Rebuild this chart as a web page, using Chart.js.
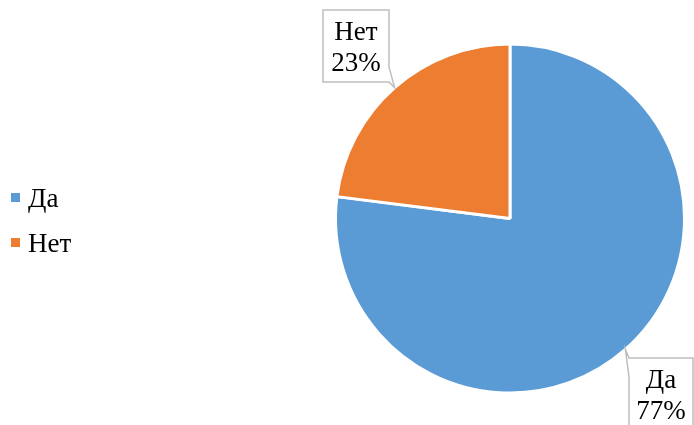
<!DOCTYPE html>
<html>
<head>
<meta charset="utf-8">
<script src="https://cdn.jsdelivr.net/npm/chart.js@4/dist/chart.umd.min.js"></script>
<style>
  html, body { margin: 0; padding: 0; background: #fff; overflow: hidden; }
  #wrap { position: relative; width: 694px; height: 425px; }
  #chart { position: absolute; left: 0; top: 0; }
  .txt {
    position: absolute;
    font-family: "Liberation Serif", "Times New Roman", "DejaVu Serif", serif;
    font-size: 27px;
    line-height: 31px;
    color: #000;
    white-space: nowrap;
  }
  .box { text-align: center; }
</style>
</head>
<body>
<div id="wrap">
  <canvas id="chart" width="694" height="425"></canvas>
</div>
<script>
const categories = ["Да", "Нет"];
const values = [77, 23];
const colors = ["#5B9BD5", "#ED7D31"];

const wrap = document.getElementById("wrap");
const total = values.reduce((a, b) => a + b, 0);

// callout boxes: where they sit and where the wedge joins them
const boxes = [
    {x: 629, y: 358, w: 64, h: 72, side: "left", a: 358, b: 377},
    {x: 323, y: 10, w: 66, h: 72, side: "right", a: 67, b: 82}
];

// legend names on the left (squares are drawn on the canvas)
categories.forEach((name, i) => {
    const el = document.createElement("div");
    el.className = "txt";
    el.style.left = "28px";
    el.style.top = (183 + i * 45) + "px";
    el.textContent = name;
    wrap.appendChild(el);
});

// label text inside the callouts
categories.forEach((name, i) => {
    const bx = boxes[i];
    const el = document.createElement("div");
    el.className = "txt box";
    el.style.left = bx.x + "px";
    el.style.width = bx.w + "px";
    el.style.top = (bx.y + 6) + "px";
    el.innerHTML = name + "<br>" + Math.round(values[i] / total * 100) + "%";
    wrap.appendChild(el);
});

const legendSquares = {
    id: "legendSquares",
    afterDraw(chart) {
        const ctx = chart.ctx;
        ctx.save();
        categories.forEach((name, i) => {
            ctx.fillStyle = colors[i];
            ctx.fillRect(11, 193 + i * 45, 9, 9);
        });
        ctx.restore();
    }
};

// white callout shapes with a wedge pointing at the slice edge
const callouts = {
    id: "callouts",
    afterDraw(chart) {
        const ctx = chart.ctx;
        const meta = chart.getDatasetMeta(0);
        ctx.save();
        meta.data.forEach((arc, i) => {
            const p = arc.getProps(["x", "y", "startAngle", "endAngle", "outerRadius"], true);
            const mid = (p.startAngle + p.endAngle) / 2;
            const tx = p.x + Math.cos(mid) * p.outerRadius;
            const ty = p.y + Math.sin(mid) * p.outerRadius;
            const bx = boxes[i];
            ctx.beginPath();
            if (bx.side === "left") {
                ctx.moveTo(bx.x, bx.y);
                ctx.lineTo(bx.x + bx.w, bx.y);
                ctx.lineTo(bx.x + bx.w, bx.y + bx.h);
                ctx.lineTo(bx.x, bx.y + bx.h);
                ctx.lineTo(bx.x, bx.b);
                ctx.lineTo(tx, ty);
                ctx.lineTo(bx.x, bx.a);
            } else {
                ctx.moveTo(bx.x, bx.y);
                ctx.lineTo(bx.x + bx.w, bx.y);
                ctx.lineTo(bx.x + bx.w, bx.a);
                ctx.lineTo(tx, ty);
                ctx.lineTo(bx.x + bx.w, bx.b);
                ctx.lineTo(bx.x + bx.w, bx.y + bx.h);
                ctx.lineTo(bx.x, bx.y + bx.h);
            }
            ctx.closePath();
            ctx.fillStyle = "#fff";
            ctx.fill();
            ctx.strokeStyle = "#BFBFBF";
            ctx.lineWidth = 1.5;
            ctx.stroke();
        });
        ctx.restore();
    }
};

new Chart(document.getElementById("chart"), {
    type: "pie",
    data: {
        labels: categories,
        datasets: [{
            data: values,
            backgroundColor: colors,
            borderColor: "#fff",
            borderWidth: 3
        }]
    },
    options: {
        responsive: false,
        animation: false,
        layout: { padding: { left: 334, right: 8, top: 42, bottom: 30 } },
        plugins: {
            legend: { display: false },
            tooltip: { enabled: false }
        }
    },
    plugins: [legendSquares, callouts]
});
</script>
</body>
</html>
